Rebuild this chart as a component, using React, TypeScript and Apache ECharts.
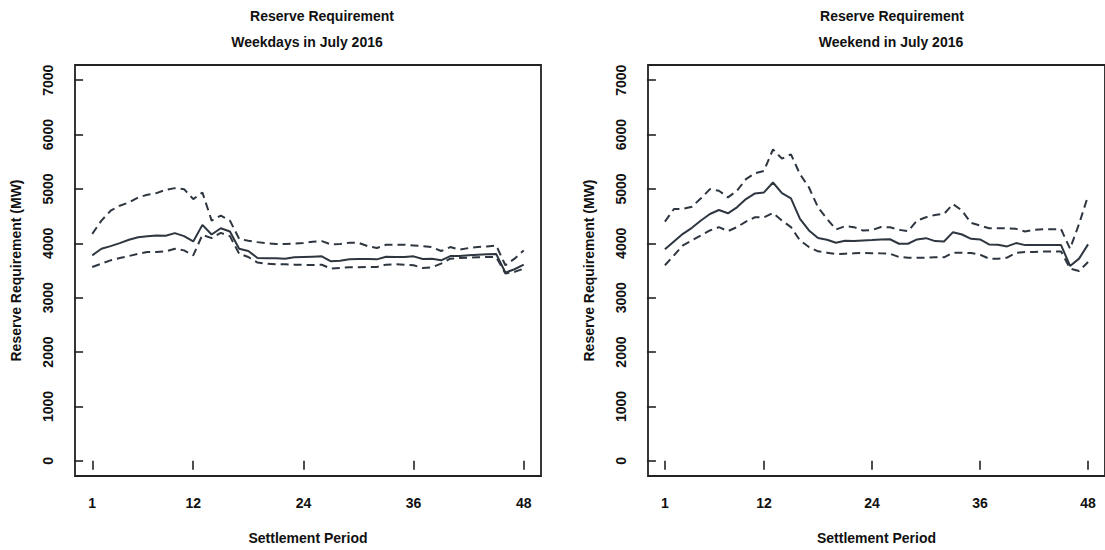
import React, { useEffect, useRef } from "react";
import * as echarts from "echarts";

// Half-hourly settlement periods of a day
const periods: number[] = Array.from({ length: 48 }, (_, k) => k + 1);
const xTickValues = [1, 12, 24, 36, 48];
const yTickValues = [0, 1000, 2000, 3000, 4000, 5000, 6000, 7000];

// Weekdays in July 2016 (MW)
const weekdayMean = [
  3779, 3900, 3949, 4004, 4065, 4113, 4132, 4144, 4138, 4187, 4132, 4034,
  4339, 4162, 4278, 4217, 3900, 3858, 3730, 3724, 3724, 3718, 3742, 3748,
  3754, 3760, 3669, 3681, 3705, 3711, 3711, 3705, 3754, 3748, 3748, 3760,
  3711, 3718, 3687, 3766, 3766, 3779, 3791, 3797, 3803, 3462, 3523, 3608,
];
const weekdayUpper = [
  4174, 4418, 4600, 4692, 4753, 4844, 4893, 4923, 4984, 5015, 4996, 4814,
  4935, 4418, 4509, 4418, 4083, 4046, 4022, 4004, 3986, 3986, 3998, 4004,
  4030, 4040, 3980, 3986, 4010, 4010, 3949, 3913, 3973, 3973, 3973, 3961,
  3949, 3931, 3858, 3931, 3882, 3913, 3931, 3943, 3961, 3596, 3718, 3870,
];
const weekdayLower = [
  3565, 3626, 3687, 3730, 3766, 3809, 3839, 3839, 3851, 3900, 3870, 3779,
  4156, 4095, 4193, 4132, 3809, 3748, 3645, 3626, 3614, 3614, 3608, 3605,
  3600, 3605, 3535, 3547, 3559, 3559, 3565, 3565, 3608, 3614, 3608, 3596,
  3547, 3559, 3626, 3718, 3730, 3736, 3742, 3748, 3748, 3444, 3474, 3535,
];

// Weekend in July 2016 (MW)
const weekendMean = [
  3889, 4035, 4175, 4285, 4419, 4540, 4613, 4552, 4662, 4814, 4918, 4936,
  5119, 4924, 4827, 4449, 4236, 4096, 4065, 4011, 4047, 4041, 4053, 4060,
  4070, 4075, 3992, 3992, 4071, 4095, 4041, 4034, 4205, 4162, 4083, 4071,
  3980, 3973, 3943, 4004, 3967, 3967, 3967, 3967, 3967, 3584, 3718, 3980,
];
const weekendUpper = [
  4400, 4632, 4632, 4674, 4827, 4997, 4967, 4845, 4967, 5180, 5289, 5332,
  5728, 5557, 5636, 5271, 5027, 4662, 4449, 4254, 4315, 4297, 4236, 4245,
  4300, 4296, 4248, 4223, 4418, 4479, 4522, 4540, 4722, 4601, 4375, 4327,
  4278, 4278, 4278, 4266, 4217, 4248, 4260, 4260, 4260, 3900, 4357, 4875,
];
const weekendLower = [
  3597, 3779, 3962, 4053, 4145, 4236, 4297, 4224, 4297, 4400, 4479, 4479,
  4558, 4419, 4297, 4053, 3931, 3852, 3828, 3803, 3810, 3816, 3822, 3818,
  3815, 3809, 3748, 3736, 3736, 3736, 3742, 3742, 3827, 3827, 3821, 3791,
  3718, 3718, 3736, 3827, 3839, 3839, 3851, 3851, 3851, 3535, 3492, 3657,
];

const FONT = "Liberation Sans, Arial, sans-serif";
const INK = "#111111";
const LINE = "#2e3640";

const pairs = (vals: number[]) => periods.map((p, k) => [p, vals[k]]);

function xAxisFor(gridIndex: number) {
  return {
    type: "value",
    gridIndex,
    min: -0.88,
    max: 49.88,
    name: "Settlement Period",
    nameLocation: "middle",
    nameGap: 55,
    nameTextStyle: { fontFamily: FONT, fontWeight: "bold", fontSize: 14, color: INK },
    axisLine: { show: false },
    splitLine: { show: false },
    axisTick: {
      show: true,
      length: 9,
      customValues: xTickValues,
      lineStyle: { color: "#222", width: 1.6 },
    },
    axisLabel: {
      customValues: xTickValues,
      margin: 20,
      formatter: (v: number) => String(v),
      fontFamily: FONT,
      fontWeight: "bold",
      fontSize: 14,
      color: INK,
    },
  };
}

function yAxisFor(gridIndex: number) {
  return {
    type: "value",
    gridIndex,
    min: -280,
    max: 7280,
    name: "Reserve Requirement (MW)",
    nameLocation: "middle",
    nameGap: 52,
    nameTextStyle: { fontFamily: FONT, fontWeight: "bold", fontSize: 14, color: INK },
    axisLine: { show: false },
    splitLine: { show: false },
    axisTick: {
      show: true,
      length: 9,
      customValues: yTickValues,
      lineStyle: { color: "#222", width: 1.6 },
    },
    axisLabel: {
      customValues: yTickValues,
      rotate: 90,
      margin: 20,
      formatter: (v: number) => String(v),
      fontFamily: FONT,
      fontWeight: "bold",
      fontSize: 14,
      color: INK,
    },
  };
}

function band(name: string, vals: number[], idx: number, dashed: boolean) {
  return {
    name,
    type: "line",
    xAxisIndex: idx,
    yAxisIndex: idx,
    data: pairs(vals),
    showSymbol: false,
    symbol: "none",
    silent: true,
    lineStyle: {
      color: LINE,
      width: 2,
      type: dashed ? [8, 5] : "solid",
    },
  };
}

function titleText(text: string, x: number, top: number) {
  return {
    text,
    left: x,
    top,
    textAlign: "center",
    padding: 0,
    textStyle: { fontFamily: FONT, fontWeight: "bold", fontSize: 14, color: INK },
  };
}

export default function App() {
  const ref = useRef<HTMLDivElement>(null);

  useEffect(() => {
    if (!ref.current) return;
    const chart = echarts.init(ref.current, undefined, { renderer: "svg" });
    chart.setOption({
      animation: false,
      backgroundColor: "#ffffff",
      title: [
        titleText("Reserve Requirement", 322, 9),
        titleText("Weekdays in July 2016", 307, 35),
        titleText("Reserve Requirement", 892, 9),
        titleText("Weekend in July 2016", 891, 35),
      ],
      grid: [
        {
          left: 75,
          top: 65,
          width: 466,
          height: 414,
          show: true,
          borderColor: "#222",
          borderWidth: 1.8,
          containLabel: false,
        },
        {
          left: 648,
          top: 65,
          width: 465,
          height: 414,
          show: true,
          borderColor: "#222",
          borderWidth: 1.8,
          containLabel: false,
        },
      ],
      xAxis: [xAxisFor(0), xAxisFor(1)],
      yAxis: [yAxisFor(0), yAxisFor(1)],
      series: [
        band("Weekday mean", weekdayMean, 0, false),
        band("Weekday upper", weekdayUpper, 0, true),
        band("Weekday lower", weekdayLower, 0, true),
        band("Weekend mean", weekendMean, 1, false),
        band("Weekend upper", weekendUpper, 1, true),
        band("Weekend lower", weekendLower, 1, true),
      ],
    });
    return () => chart.dispose();
  }, []);

  return (
    <div
      ref={ref}
      style={{ position: "fixed", left: 0, top: 0, width: 1105, height: 550 }}
    />
  );
}
